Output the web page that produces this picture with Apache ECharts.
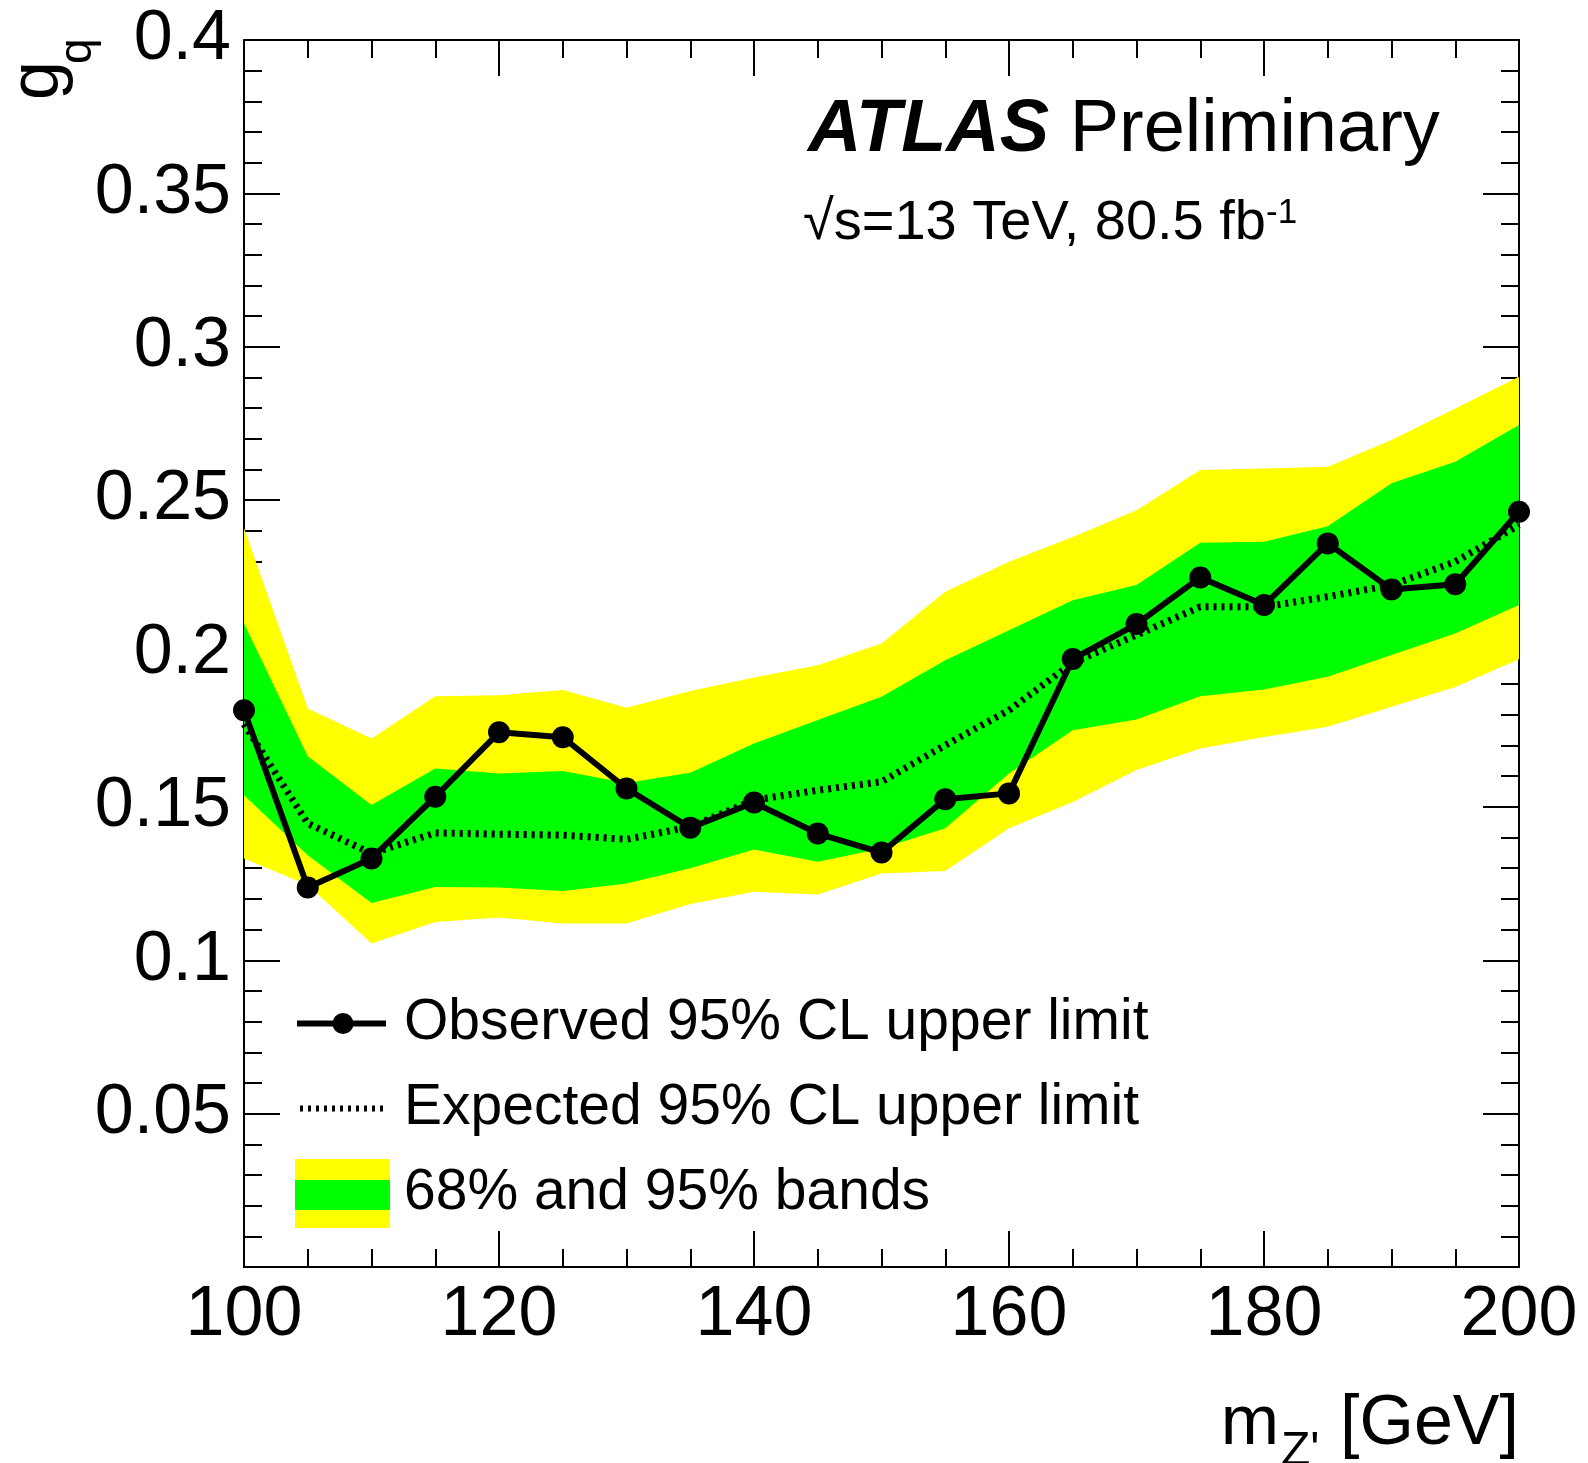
<!DOCTYPE html>
<html><head><meta charset="utf-8">
<script src="https://cdn.jsdelivr.net/npm/echarts@6/dist/echarts.min.js"></script>
<style>html,body{margin:0;padding:0;background:#fff}#c{width:1588px;height:1463px}</style>
</head><body><div id="c"></div>
<script>
// ---- data ----
const masses = [100,105,110,115,120,125,130,135,140,145,150,155,160,165,170,175,180,185,190,195,200];
const observed = [0.1815,0.1237,0.1332,0.1533,0.1743,0.1727,0.1560,0.1432,0.1514,0.1413,0.1351,0.1525,0.1544,0.1982,0.2096,0.2248,0.2158,0.2359,0.2209,0.2226,0.2462];
const expected = [0.1770,0.1446,0.1348,0.1415,0.1411,0.1408,0.1394,0.1435,0.1522,0.1554,0.1582,0.1701,0.1815,0.1970,0.2060,0.2152,0.2152,0.2185,0.2223,0.2299,0.2419];
const band68Up = [0.2098,0.1665,0.1506,0.1625,0.1609,0.1617,0.1578,0.1611,0.1707,0.1783,0.1859,0.1978,0.2076,0.2174,0.2223,0.2361,0.2364,0.2415,0.2555,0.2625,0.2745];
const band68Low = [0.1538,0.1342,0.1187,0.1239,0.1237,0.1226,0.1250,0.1300,0.1361,0.1321,0.1364,0.1430,0.1609,0.1750,0.1785,0.1861,0.1883,0.1924,0.1995,0.2065,0.2158];
const band95Up = [0.2408,0.1821,0.1723,0.1861,0.1864,0.1881,0.1823,0.1878,0.1922,0.1962,0.2033,0.2201,0.2299,0.2380,0.2467,0.2598,0.2603,0.2609,0.2696,0.2799,0.2902];
const band95Low = [0.1332,0.1245,0.1055,0.1125,0.1139,0.1120,0.1120,0.1183,0.1223,0.1214,0.1283,0.1291,0.1430,0.1516,0.1620,0.1690,0.1728,0.1761,0.1826,0.1891,0.1981];
const xTicks = {min:100, max:200, interval:20};
const yTicks = {min:0, max:0.4, interval:0.05};
const names = ['Observed 95% CL upper limit','Expected 95% CL upper limit','68% and 95% bands'];

const FF = '"Liberation Sans", Arial, Helvetica, sans-serif';
const svgIcon = s => 'image://data:image/svg+xml;utf8,' + encodeURIComponent(s);
const iconObs = svgIcon("<svg xmlns='http://www.w3.org/2000/svg' width='95' height='69'><line x1='2' y1='34.5' x2='91' y2='34.5' stroke='#000' stroke-width='6'/><circle cx='48' cy='34.5' r='10.5' fill='#000'/></svg>");
const iconExp = svgIcon("<svg xmlns='http://www.w3.org/2000/svg' width='95' height='69'><line x1='5' y1='34.5' x2='93' y2='34.5' stroke='#000' stroke-width='6' stroke-dasharray='3 5'/></svg>");
const iconBand = svgIcon("<svg xmlns='http://www.w3.org/2000/svg' width='95' height='69'><rect x='0' y='0' width='95' height='69' fill='#ffff00'/><rect x='0' y='21' width='95' height='30' fill='#00ff00'/></svg>");

const chart = echarts.init(document.getElementById('c'), null, {renderer:'canvas'});

const tickCommon = {
  axisLine:{show:true, onZero:false, lineStyle:{color:'#000', width:2}},
  axisTick:{show:true, inside:true, length:36, lineStyle:{color:'#000', width:2}},
  splitLine:{show:false}, minorSplitLine:{show:false}
};
function xAx(pos, labels){
  return Object.assign({}, tickCommon, {
    type:'value', position:pos, min:xTicks.min, max:xTicks.max, interval:xTicks.interval,
    minorTick:{show:true, splitNumber:4, length:18, lineStyle:{color:'#000', width:2}},
    axisLabel:{show:labels, fontSize:70, color:'#000', fontFamily:FF, margin:14, showMinLabel:true, showMaxLabel:true}
  });
}
function yAx(pos, labels){
  return Object.assign({}, tickCommon, {
    type:'value', position:pos, min:yTicks.min, max:yTicks.max, interval:yTicks.interval,
    minorTick:{show:true, splitNumber:5, length:18, lineStyle:{color:'#000', width:2}},
    axisLabel:{show:labels, fontSize:70, color:'#000', fontFamily:FF, margin:13, padding:[7,0,0,0], showMinLabel:true, showMaxLabel:true,
      formatter: v => (Math.abs(v) < 1e-9 ? '' : String(+v.toFixed(2)))}
  });
}

const option = {
  animation:false,
  backgroundColor:'#fff',
  grid:{left:244, right:69, top:40, bottom:196, containLabel:false, outerBoundsMode:'none'},
  xAxis:[xAx('bottom', true), xAx('top', false)],
  yAxis:[yAx('left', true), yAx('right', false)],
  legend:{
    orient:'vertical', left:290, top:984, itemWidth:95, itemHeight:69, itemGap:16,
    selectedMode:false,
    textStyle:{fontSize:57, color:'#000', fontFamily:FF, padding:[0,0,0,9]},
    data:[{name:names[0], icon:iconObs},{name:names[1], icon:iconExp},{name:names[2], icon:iconBand}]
  },
  series:[
    {
      name:names[2], type:'custom', xAxisIndex:0, yAxisIndex:0, z:1,
      data:[[masses[0], band95Up[0]]],
      itemStyle:{color:'#ffff00'},
      renderItem:function(params, api){
        const poly = (hi, lo) => {
          const pts = [];
          for (let i = 0; i < masses.length; i++) pts.push(api.coord([masses[i], hi[i]]));
          for (let i = masses.length - 1; i >= 0; i--) pts.push(api.coord([masses[i], lo[i]]));
          return pts;
        };
        return {type:'group', children:[
          {type:'polygon', shape:{points:poly(band95Up, band95Low)}, style:{fill:'#ffff00'}},
          {type:'polygon', shape:{points:poly(band68Up, band68Low)}, style:{fill:'#00ff00'}}
        ]};
      }
    },
    {
      name:names[1], type:'line', z:3, symbol:'none',
      data:masses.map((m,i)=>[m, expected[i]]),
      lineStyle:{color:'#000', width:7, type:[3,5], cap:'butt'},
      itemStyle:{color:'#000'}
    },
    {
      name:names[0], type:'line', z:4, symbol:'circle', symbolSize:22,
      data:masses.map((m,i)=>[m, observed[i]]),
      lineStyle:{color:'#000', width:6},
      itemStyle:{color:'#000'}
    }
  ],
  graphic:[
    {type:'text', x:808, y:131, z:10, style:{
      text:'{b|ATLAS} {n|Preliminary}', fontSize:74, fontFamily:FF, fill:'#000', verticalAlign:'middle',
      rich:{b:{fontSize:74, fontFamily:FF, fontWeight:'bold', fontStyle:'italic', fill:'#000'},
            n:{fontSize:74, fontFamily:FF, fill:'#000'}}}},
    {type:'text', x:803, y:224, z:10, style:{
      text:'{n|\u221As=13 TeV, 80.5 fb}{s|-1}', fontSize:56, fontFamily:FF, fill:'#000', verticalAlign:'middle',
      rich:{n:{fontSize:56, fontFamily:FF, fill:'#000'}, s:{fontSize:35, fontFamily:FF, fill:'#000', verticalAlign:'top'}}}},
    {type:'text', x:1519, y:1425, z:10, style:{text:'[GeV]', fontSize:70, fontFamily:FF, fill:'#000', align:'right', verticalAlign:'middle'}},
    {type:'text', x:1279, y:1425, z:10, style:{text:'m', fontSize:70, fontFamily:FF, fill:'#000', align:'right', verticalAlign:'middle'}},
    {type:'text', x:1281, y:1452, z:10, style:{text:"Z'", fontSize:48, fontFamily:FF, fill:'#000', align:'left', verticalAlign:'middle'}},
    {type:'text', x:39, y:100, rotation:Math.PI/2, z:10, style:{text:'g', fontSize:70, fontFamily:FF, fill:'#000', align:'left', verticalAlign:'middle'}},
    {type:'text', x:78, y:64, rotation:Math.PI/2, z:10, style:{text:'q', fontSize:46, fontFamily:FF, fill:'#000', align:'left', verticalAlign:'middle'}}
  ]
};
chart.setOption(option);
</script>
</body></html>
